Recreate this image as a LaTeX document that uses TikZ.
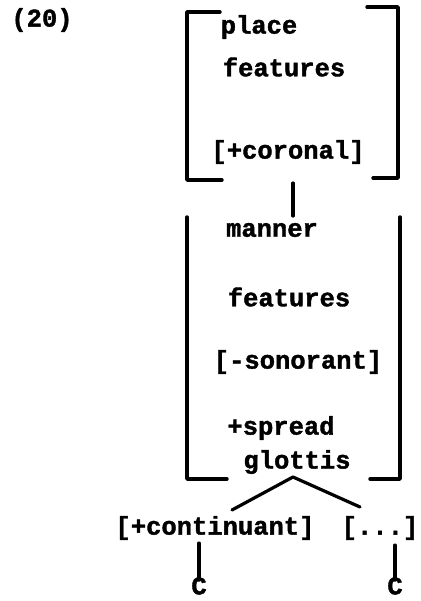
\documentclass[tikz,border=0pt]{standalone}
\usepackage{fontspec}
\setmonofont{Liberation Mono}[BoldFeatures={FakeBold=1.5}]
\usetikzlibrary{positioning}

\begin{document}
\begin{tikzpicture}[
  x=1pt, y=-1pt,
  feat/.style={font=\ttfamily\bfseries\fontsize{25.5}{28}\selectfont, inner sep=0pt},
  brk/.style={line width=3.4pt, line cap=round, line join=round},
  link/.style={line width=3.2pt, line cap=round}
]
\useasboundingbox (0,0) rectangle (420,601);

% example number
\node[feat] (num) at (42,20) {(20)};

% place features
\node[feat] (place)   at (259,27)  {place};
\node[feat] (pfeat)   at (284,67)  {features};
\node[feat] (coronal) at (288,152) {[+coronal]};
\draw[brk] (220,12) -- (187,12) -- (187,180) -- (222,180);
\draw[brk] (367,7) -- (398,7) -- (398,178) -- (373,178);

% manner features
\node[feat] (manner)   at (272,230) {manner};
\node[feat] (mfeat)    at (289,297) {features};
\node[feat] (sonorant) at (298,362) {[-sonorant]};
\node[feat] (spread)   at (281,428) {+spread};
\node[feat] (glottis)  at (297,462) {glottis};
\draw[brk] (187,217) -- (187,479) -- (227,479);
\draw[brk] (400,217) -- (400,479) -- (370,479);

% daughters
\node[feat] (cont) at (215,528) {[+continuant]};
\node[feat] (etc)  at (380,528) {[...]};
\node[feat] (c1)   at (199,586) {C};
\node[feat] (c2)   at (395,586) {C};

\coordinate (pbot)  at (293,183);
\coordinate (mtop)  at (293,216);
\coordinate (apex)  at (293,477);
\coordinate (lfoot) at (232,510);
\coordinate (rfoot) at (360,507);

\draw[link] (pbot) -- (mtop);
\draw[link] (apex) -- (lfoot);
\draw[link] (apex) -- (rfoot);
\draw[link] (cont.south -| c1) ++(0,3) coordinate (ltop) -- ([yshift=-3pt]c1.north);
\draw[link] (etc.south -| c2) ++(0,5) coordinate (rtop) -- ([yshift=-3pt]c2.north);
\end{tikzpicture}
\end{document}
